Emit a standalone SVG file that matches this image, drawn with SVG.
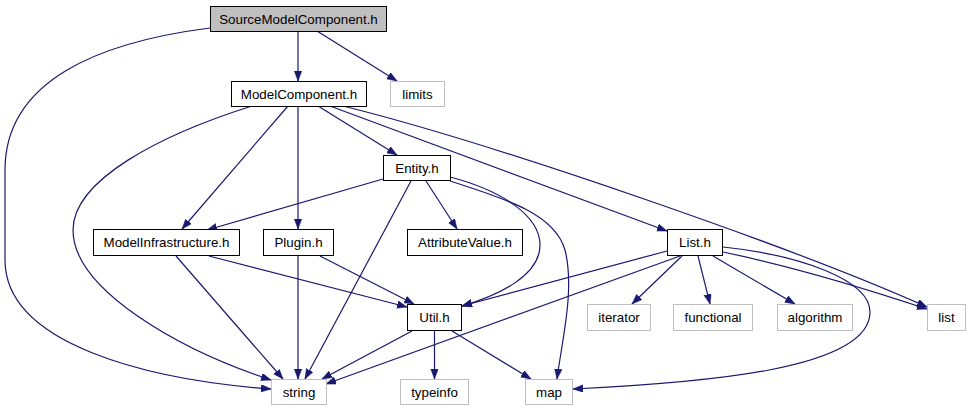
<svg xmlns="http://www.w3.org/2000/svg" width="971" height="411" viewBox="0 0 971 411">
<style>
.n rect{fill:#fff;stroke:#000;stroke-width:1}
.n.ext rect{stroke:#bfbfbf}
.n.root rect{fill:#bfbfbf}
.n text{font-family:"Liberation Sans",Arial,sans-serif;font-size:13.33px;fill:#000;text-anchor:middle}
.e path{fill:none;stroke:#191970;stroke-width:1.2;marker-end:url(#ah)}
</style>
<defs>
<marker id="ah" markerUnits="userSpaceOnUse" markerWidth="11" markerHeight="8" refX="10" refY="3.75" orient="auto">
<path d="M0,0 L10,3.75 L0,7.5 z" fill="#191970" stroke="#191970" stroke-width="0.5"/>
</marker>
</defs>
<rect width="971" height="411" fill="#fff"/>
<g id="edges" class="e">
<path d="M298,32 L298,81"/>
<path d="M317,31 L397,81"/>
<path d="M210,28 C100,42 5,80 5,170 L5,260 C5,345 150,380 271,389"/>
<path d="M252,106 C160,135 73,180 73,230 C73,290 180,350 271,380"/>
<path d="M288,106 L182,229"/>
<path d="M298,106 L298,229"/>
<path d="M318,106 L397,155"/>
<path d="M330,106 L667,231"/>
<path d="M343,106 C500,145 800,250 927,307"/>
<path d="M383,179 L207,230"/>
<path d="M411,181 L305,379"/>
<path d="M426,181 L457,229"/>
<path d="M450,177 C500,190 540,215 540,245 C540,275 500,295 462,306"/>
<path d="M450,181 C510,200 555,215 565,250 C575,290 562,340 557,379"/>
<path d="M176,256 L283,379"/>
<path d="M209,256 L407,307"/>
<path d="M298,256 L298,379"/>
<path d="M320,256 L414,304"/>
<path d="M412,331 L322,379"/>
<path d="M434.5,331 L434.5,379"/>
<path d="M452,331 L531,379"/>
<path d="M667,251 L462,306"/>
<path d="M680,256 L326,384"/>
<path d="M682,256 L632,304"/>
<path d="M698,256 L710,304"/>
<path d="M713,256 L795,304"/>
<path d="M723,252 C800,268 870,290 927,309"/>
<path d="M723,247 C800,255 870,280 870,312 C870,370 700,383 573,389"/>
</g>
<g id="n_smc" class="n root"><rect x="210.5" y="6.5" width="176" height="25"/><text x="298.5" y="23.5">SourceModelComponent.h</text></g>
<g id="n_mc" class="n"><rect x="231.5" y="81.5" width="135" height="25"/><text x="299" y="98.5">ModelComponent.h</text></g>
<g id="n_limits" class="n ext"><rect x="390.5" y="81.5" width="54" height="25"/><text x="417.5" y="98.5">limits</text></g>
<g id="n_entity" class="n"><rect x="383.5" y="155.5" width="67" height="25"/><text x="417" y="172.5">Entity.h</text></g>
<g id="n_mi" class="n"><rect x="93.5" y="229.5" width="146" height="26"/><text x="166.5" y="247">ModelInfrastructure.h</text></g>
<g id="n_plugin" class="n"><rect x="263.5" y="229.5" width="70" height="26"/><text x="298.5" y="247">Plugin.h</text></g>
<g id="n_attr" class="n"><rect x="407.5" y="229.5" width="115" height="26"/><text x="465" y="247">AttributeValue.h</text></g>
<g id="n_listh" class="n"><rect x="667.5" y="229.5" width="55" height="26"/><text x="695" y="247">List.h</text></g>
<g id="n_util" class="n"><rect x="407.5" y="304.5" width="54" height="26"/><text x="434.5" y="322">Util.h</text></g>
<g id="n_iterator" class="n ext"><rect x="587.5" y="304.5" width="63" height="26"/><text x="619" y="322">iterator</text></g>
<g id="n_functional" class="n ext"><rect x="673.5" y="304.5" width="79" height="26"/><text x="713" y="322">functional</text></g>
<g id="n_algorithm" class="n ext"><rect x="777.5" y="304.5" width="75" height="26"/><text x="815" y="322">algorithm</text></g>
<g id="n_list" class="n ext"><rect x="927.5" y="304.5" width="38" height="26"/><text x="946.5" y="322">list</text></g>
<g id="n_string" class="n ext"><rect x="271.5" y="379.5" width="55" height="25"/><text x="299" y="396.5">string</text></g>
<g id="n_typeinfo" class="n ext"><rect x="400.5" y="379.5" width="68" height="25"/><text x="434.5" y="396.5">typeinfo</text></g>
<g id="n_map" class="n ext"><rect x="525.5" y="379.5" width="47" height="25"/><text x="549" y="396.5">map</text></g>
</svg>
